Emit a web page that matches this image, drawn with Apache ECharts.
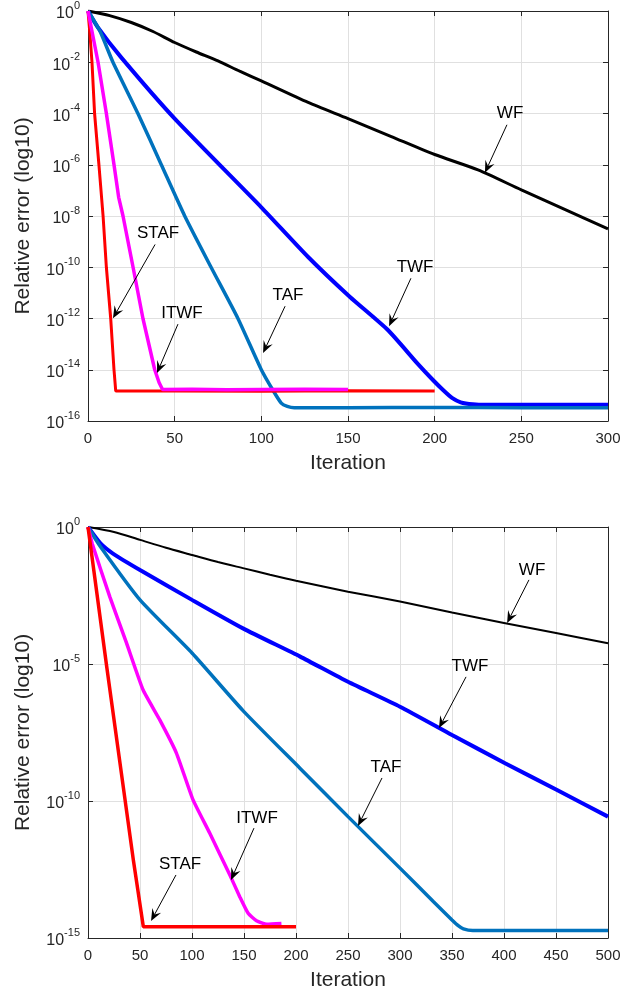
<!DOCTYPE html>
<html>
<head>
<meta charset="utf-8">
<script src="https://cdn.jsdelivr.net/npm/echarts@6/dist/echarts.min.js"></script>
<style>
  html, body { margin: 0; padding: 0; background: #fff; }
  #chart { width: 631px; height: 995px; }
</style>
</head>
<body>
<div id="chart"></div>
<script>
// top panel: 300 iterations, log10 of relative error
var topWfIter = [0, 12.5, 25, 37.5, 50, 62.5, 75, 87.5, 100, 127, 150, 175, 200, 225, 250, 275, 300]
var topWfErr = [0, -0.18, -0.45, -0.8, -1.23, -1.6, -1.95, -2.35, -2.73, -3.57, -4.2, -4.9, -5.6, -6.2, -6.98, -7.74, -8.5]
var topTwfIter = [0, 5.8, 19, 50, 100, 127, 151, 173, 190, 199, 205, 210, 215, 222, 230, 260, 300]
var topTwfErr = [0, -0.65, -1.8, -4.2, -7.66, -9.6, -11.15, -12.45, -13.75, -14.4, -14.8, -15.1, -15.27, -15.35, -15.37, -15.37, -15.37]
var topTafIter = [0, 7, 14.4, 28.8, 42.3, 55.8, 71, 86.5, 100, 106.7, 111.5, 115, 119, 150, 200, 250, 300]
var topTafErr = [0, -0.8, -2, -4, -6, -8, -10, -12, -14, -14.8, -15.3, -15.43, -15.48, -15.48, -15.47, -15.48, -15.48]
var topItwfIter = [0, 5.8, 10.6, 15, 17.7, 20.2, 26, 31.7, 38.5, 41, 43, 60, 80, 100, 125, 150]
var topItwfErr = [0, -2, -4, -6, -7.27, -8, -10, -12, -14, -14.5, -14.77, -14.76, -14.78, -14.77, -14.76, -14.77]
var topStafIter = [0, 1, 2.3, 3.8, 6.3, 8.7, 10.6, 13.1, 15, 16, 50, 100, 150, 200]
var topStafErr = [0, -0.8, -2, -4, -6, -8, -10, -12, -14, -14.83, -14.83, -14.84, -14.82, -14.83]

// bottom panel: 500 iterations
var botWfIter = [0, 25, 50, 75, 100, 125, 150, 175, 200, 250, 300, 350, 400, 450, 500]
var botWfErr = [0, -0.18, -0.47, -0.76, -1.02, -1.28, -1.51, -1.74, -1.96, -2.36, -2.72, -3.12, -3.5, -3.87, -4.24]
var botTwfIter = [0, 12, 24, 50, 100, 149, 204, 250, 300, 350, 401, 451, 500]
var botTwfErr = [0, -0.6, -0.97, -1.57, -2.66, -3.7, -4.73, -5.65, -6.56, -7.59, -8.62, -9.6, -10.57]
var botTafIter = [0, 12, 50, 100, 149, 204, 250, 300, 332, 350, 356, 361, 370, 400, 450, 500]
var botTafErr = [0, -0.72, -2.66, -4.6, -6.7, -8.81, -10.57, -12.45, -13.67, -14.34, -14.55, -14.67, -14.73, -14.73, -14.73, -14.73]
var botItwfIter = [0, 4, 21, 37, 53, 69, 85, 101, 117, 137, 146, 154, 162, 172, 186]
var botItwfErr = [0, -0.6, -2.55, -4.23, -5.95, -7.04, -8.25, -9.96, -11.17, -12.75, -13.5, -14.1, -14.37, -14.5, -14.47]
var botStafIter = [0, 18, 43.6, 53.2, 100, 150, 200]
var botStafErr = [0, -5.1, -12.15, -14.59, -14.59, -14.59, -14.59]

var xTicksTop = [0, 300, 50]
var xTicksBot = [0, 500, 50]
var yTicksTop = [-16, 0, 2]
var yTicksBot = [-15, 0, 5]

// text arrows, in data units: label centre, arrow start, arrow tip
var notesTop = [
  { text: 'WF', at: [243.5, -4.0], from: [241.7, -4.44], to: [229, -6.31] },
  { text: 'TWF', at: [188.7, -10.0], from: [186.3, -10.43], to: [173.7, -12.3] },
  { text: 'TAF', at: [115.4, -11.1], from: [113.7, -11.52], to: [101, -13.35] },
  { text: 'ITWF', at: [54.2, -11.8], from: [51.9, -12.22], to: [39.8, -14.13] },
  { text: 'STAF', at: [40.4, -8.68], from: [38.7, -9.11], to: [14.4, -11.99] }
]
var notesBot = [
  { text: 'WF', at: [427, -1.57], from: [424, -1.93], to: [403, -3.5] },
  { text: 'TWF', at: [367.3, -5.07], from: [363.5, -5.47], to: [337.5, -7.34] },
  { text: 'TAF', at: [286.5, -8.76], from: [282.7, -9.16], to: [259.6, -10.91] },
  { text: 'ITWF', at: [162.5, -10.62], from: [159.6, -10.99], to: [137.5, -12.88] },
  { text: 'STAF', at: [88.5, -12.3], from: [84.6, -12.7], to: [60.6, -14.38] }
]

var FONT = '"Liberation Sans", Arial, Helvetica, sans-serif'
var AXIS = '#262626'
var GRID = '#e0e0e0'

function zip(xs, ys) {
  return xs.map(function(x, i) { return [x, ys[i]] })
}

function xAxes(gi, t) {
  return [
    {
      type: 'value', gridIndex: gi, position: 'bottom',
      min: t[0], max: t[1], interval: t[2],
      name: 'Iteration', nameLocation: 'middle', nameGap: 32,
      nameTextStyle: { fontFamily: FONT, fontSize: 21, color: AXIS },
      axisLine: { show: true, onZero: false, lineStyle: { color: AXIS, width: 1 } },
      axisTick: { show: true, inside: true, length: 5, lineStyle: { color: AXIS } },
      axisLabel: { fontFamily: FONT, fontSize: 15, color: AXIS, margin: 10 },
      splitLine: { show: true, lineStyle: { color: GRID, width: 1 } }
    },
    {
      type: 'value', gridIndex: gi, position: 'top',
      min: t[0], max: t[1], interval: t[2],
      axisLine: { show: true, onZero: false, lineStyle: { color: AXIS, width: 1 } },
      axisTick: { show: true, inside: true, length: 5, lineStyle: { color: AXIS } },
      axisLabel: { show: false },
      splitLine: { show: false }
    }
  ]
}

function yAxes(gi, t) {
  return [
    {
      type: 'value', gridIndex: gi, position: 'left',
      min: t[0], max: t[1], interval: t[2],
      name: 'Relative error (log10)', nameLocation: 'middle', nameGap: 54, nameRotate: 90,
      nameTextStyle: { fontFamily: FONT, fontSize: 21, color: AXIS },
      axisLine: { show: true, onZero: false, lineStyle: { color: AXIS, width: 1 } },
      axisTick: { show: true, inside: true, length: 5, lineStyle: { color: AXIS } },
      axisLabel: {
        margin: 8,
        formatter: function(v) { return '{b|10}{s|' + v + '}' },
        rich: {
          b: { fontFamily: FONT, fontSize: 16, color: AXIS, lineHeight: 22, verticalAlign: 'bottom' },
          s: { fontFamily: FONT, fontSize: 11, color: AXIS, lineHeight: 12, verticalAlign: 'top' }
        }
      },
      splitLine: { show: true, lineStyle: { color: GRID, width: 1 } }
    },
    {
      type: 'value', gridIndex: gi, position: 'right',
      min: t[0], max: t[1], interval: t[2],
      axisLine: { show: true, onZero: false, lineStyle: { color: AXIS, width: 1 } },
      axisTick: { show: true, inside: true, length: 5, lineStyle: { color: AXIS } },
      axisLabel: { show: false },
      splitLine: { show: false }
    }
  ]
}

function line(name, xi, yi, xs, ys, color, width, smooth) {
  return {
    name: name, type: 'line', xAxisIndex: xi, yAxisIndex: yi,
    data: zip(xs, ys), showSymbol: false, symbol: 'none',
    smooth: smooth || false,
    lineStyle: { color: color, width: width }, itemStyle: { color: color },
    animation: false, silent: true
  }
}

var chart = echarts.init(document.getElementById('chart'))
chart.setOption({
  backgroundColor: '#fff',
  animation: false,
  grid: [
    { left: 88, top: 10, width: 520, height: 411 },
    { left: 88, top: 527, width: 520, height: 411 }
  ],
  xAxis: xAxes(0, xTicksTop).concat(xAxes(1, xTicksBot)),
  yAxis: yAxes(0, yTicksTop).concat(yAxes(1, yTicksBot)),
  series: [
    line('WF', 0, 0, topWfIter, topWfErr, '#000000', 3, 0.25),
    line('TWF', 0, 0, topTwfIter, topTwfErr, '#0000ff', 4, 0.2),
    line('TAF', 0, 0, topTafIter, topTafErr, '#0072bd', 3.5, 0.2),
    line('STAF', 0, 0, topStafIter, topStafErr, '#ff0000', 3),
    line('ITWF', 0, 0, topItwfIter, topItwfErr, '#ff00ff', 3.5),
    line('WF', 2, 2, botWfIter, botWfErr, '#000000', 2, 0.25),
    line('TWF', 2, 2, botTwfIter, botTwfErr, '#0000ff', 4, 0.2),
    line('TAF', 2, 2, botTafIter, botTafErr, '#0072bd', 3.5, 0.2),
    line('ITWF', 2, 2, botItwfIter, botItwfErr, '#ff00ff', 3.5, 0.15),
    line('STAF', 2, 2, botStafIter, botStafErr, '#ff0000', 3.5)
  ]
})

// arrows like matlab textarrow
function arrowParts(notes, gi) {
  var out = []
  notes.forEach(function(n) {
    var c = chart.convertToPixel({ gridIndex: gi }, n.at)
    var a = chart.convertToPixel({ gridIndex: gi }, n.from)
    var b = chart.convertToPixel({ gridIndex: gi }, n.to)
    var dx = b[0] - a[0], dy = b[1] - a[1]
    var len = Math.sqrt(dx * dx + dy * dy)
    var ux = dx / len, uy = dy / len
    var L = 12, W = 10
    var notch = [b[0] - ux * L * 0.62, b[1] - uy * L * 0.62]
    out.push({
      type: 'text', z: 100,
      style: { text: n.text, x: c[0], y: c[1], align: 'center', verticalAlign: 'middle',
        fontFamily: FONT, fontSize: 17, fill: '#000' }
    })
    out.push({
      type: 'line', z: 100,
      shape: { x1: a[0], y1: a[1], x2: notch[0], y2: notch[1] },
      style: { stroke: '#000', lineWidth: 1 }
    })
    out.push({
      type: 'polygon', z: 100,
      shape: { points: [
        b,
        [b[0] - ux * L - uy * W / 2, b[1] - uy * L + ux * W / 2],
        notch,
        [b[0] - ux * L + uy * W / 2, b[1] - uy * L - ux * W / 2]
      ] },
      style: { fill: '#000' }
    })
  })
  return out
}

chart.setOption({ graphic: arrowParts(notesTop, 0).concat(arrowParts(notesBot, 1)) })
</script>
</body>
</html>
